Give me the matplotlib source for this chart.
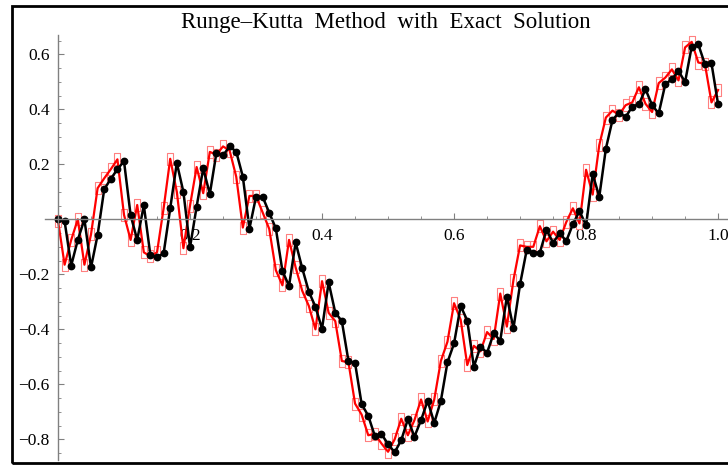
import numpy as np
import matplotlib
matplotlib.use("Agg")
import matplotlib.pyplot as plt
from matplotlib.patches import Rectangle
from matplotlib.ticker import FixedLocator, MultipleLocator

plt.rcParams['font.family'] = ['Liberation Serif', 'DejaVu Serif']

# step size of the solution grid (x runs 0 .. 1)
step = 0.01

# Runge-Kutta values (black, dots)
rk_vals = [0.000, -0.007, -0.168, -0.075, 0.000, -0.175, -0.057, 0.109, 0.147, 0.182,
           0.211, 0.015, -0.075, 0.051, -0.131, -0.138, -0.124, 0.040, 0.205, 0.099,
           -0.102, 0.046, 0.185, 0.092, 0.242, 0.232, 0.265, 0.246, 0.155, -0.034,
           0.082, 0.082, 0.024, -0.033, -0.188, -0.242, -0.084, -0.178, -0.263, -0.318,
           -0.398, -0.229, -0.339, -0.370, -0.515, -0.522, -0.672, -0.714, -0.788, -0.781,
           -0.817, -0.847, -0.803, -0.727, -0.790, -0.730, -0.660, -0.740, -0.660, -0.520,
           -0.451, -0.315, -0.368, -0.536, -0.463, -0.485, -0.415, -0.441, -0.281, -0.396,
           -0.236, -0.112, -0.121, -0.121, -0.038, -0.085, -0.051, -0.079, -0.018, 0.030,
           -0.022, 0.164, 0.082, 0.257, 0.361, 0.388, 0.372, 0.410, 0.418, 0.473,
           0.415, 0.385, 0.491, 0.509, 0.539, 0.499, 0.628, 0.636, 0.564, 0.567,
           0.418]

# exact solution values (red, box markers)
exact_vals = [-0.005, -0.165, -0.075, 0.000, -0.165, -0.055, 0.113, 0.149, 0.182, 0.218,
              0.016, -0.075, 0.052, -0.120, -0.135, -0.120, 0.040, 0.220, 0.100, -0.105,
              0.050, 0.190, 0.095, 0.245, 0.235, 0.265, 0.250, 0.155, -0.030, 0.085,
              0.085, 0.025, -0.035, -0.185, -0.240, -0.075, -0.175, -0.260, -0.315, -0.400,
              -0.225, -0.340, -0.370, -0.515, -0.520, -0.670, -0.710, -0.785, -0.780, -0.815,
              -0.845, -0.800, -0.725, -0.785, -0.730, -0.655, -0.735, -0.655, -0.515, -0.445,
              -0.305, -0.365, -0.530, -0.460, -0.480, -0.410, -0.435, -0.270, -0.390, -0.220,
              -0.095, -0.100, -0.100, -0.025, -0.080, -0.045, -0.075, -0.010, 0.040, -0.015,
              0.180, 0.090, 0.270, 0.370, 0.395, 0.380, 0.415, 0.425, 0.480, 0.420,
              0.390, 0.495, 0.515, 0.545, 0.505, 0.625, 0.645, 0.570, 0.565, 0.425,
              0.470]

x_ticks = [0.2, 0.4, 0.6, 0.8, 1.0]
x_labels = ['0.2', '0.4', '0.6', '0.8', '1.0']
y_ticks = [-0.8, -0.6, -0.4, -0.2, 0.2, 0.4, 0.6]
y_labels = ['\u22120.8', '\u22120.6', '\u22120.4', '\u22120.2', '0.2', '0.4', '0.6']

t = np.arange(len(rk_vals)) * step

W, H = 728, 466
fig = plt.figure(figsize=(W / 100, H / 100), dpi=100)
ax = fig.add_axes([44.8 / W, 6 / H, 683.2 / W, 425 / H])

# tall box markers like the original plot
box = [(-0.25, -0.5), (0.25, -0.5), (0.25, 0.5), (-0.25, 0.5), (-0.25, -0.5)]
ax.plot(t, exact_vals, linestyle='none', marker=box, markersize=8.6,
        mfc='none', mec='#ff8080', mew=0.8)
ax.plot(t, exact_vals, color='red', lw=1.6)
ax.plot(t, rk_vals, color='black', lw=1.8, marker='o', markersize=4.6)

ax.set_xlim(-0.02, 1.015)
ax.set_ylim(-0.875, 0.67)

for s in ['top', 'right']:
    ax.spines[s].set_visible(False)
for s in ['left', 'bottom']:
    ax.spines[s].set_position(('data', 0))
    ax.spines[s].set_color('#808080')
    ax.spines[s].set_linewidth(1.0)

ax.xaxis.set_major_locator(FixedLocator(x_ticks))
ax.xaxis.set_minor_locator(MultipleLocator(0.05))
ax.yaxis.set_major_locator(FixedLocator(y_ticks))
ax.yaxis.set_minor_locator(MultipleLocator(0.05))
ax.set_xticklabels(x_labels)
ax.set_yticklabels(y_labels)
ax.tick_params(which='both', direction='in', color='#808080', labelcolor='black')
ax.tick_params(which='major', length=4, width=0.8, labelsize=12.5, pad=6)
ax.tick_params(which='minor', length=2.5, width=0.6)

# wide word spacing as in the original title
fig.text(386 / W, (H - 28) / H, 'Runge\u2013Kutta  Method  with  Exact  Solution',
         ha='center', va='baseline', fontsize=16.5)

# black frame round the picture
fig.add_artist(Rectangle((11.5 / W, 3 / H), 1.0, 457.5 / H, transform=fig.transFigure,
                         fill=False, ec='black', lw=2))

fig.savefig('out.png', dpi=100)
